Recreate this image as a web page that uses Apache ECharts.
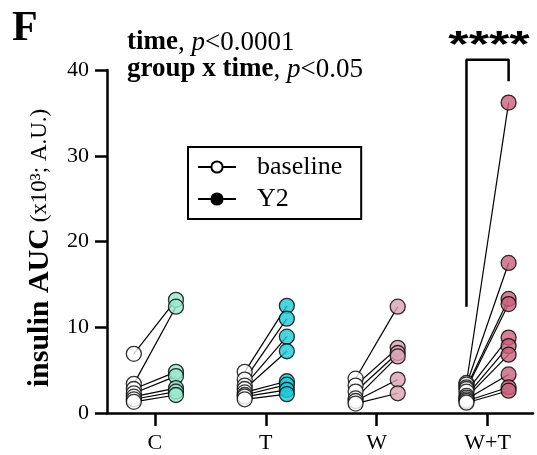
<!DOCTYPE html>
<html>
<head>
<meta charset="utf-8">
<script src="https://cdn.jsdelivr.net/npm/echarts@6/dist/echarts.min.js"></script>
<style>
  html, body { margin: 0; padding: 0; background: #fff; }
  #chart { width: 537px; height: 455px; }
</style>
</head>
<body>
<div id="chart"></div>
<script>
// 分组与刻度
const groups = ['C', 'T', 'W', 'W+T'];
const yTicks = [0, 10, 20, 30, 40];

// 每组受试者的基线值与 Y2 值（x10^3; A.U.），按配对顺序
const baselineC = [6.9, 3.4, 2.8, 2.3, 1.9, 1.6, 1.3];
const y2C = [13.2, 12.4, 4.8, 4.3, 2.9, 2.5, 2.1];
const baselineT = [4.8, 3.9, 3.2, 2.8, 2.4, 2.1, 1.9, 1.6];
const y2T = [12.5, 11.0, 8.9, 7.2, 3.7, 3.3, 2.7, 2.2];
const baselineW = [4.0, 3.2, 2.5, 1.7, 1.4, 1.1];
const y2W = [12.4, 7.6, 7.0, 6.6, 3.9, 2.3];
const baselineWT = [3.5, 3.3, 3.0, 2.8, 2.5, 2.0, 1.8, 1.6, 1.4, 1.2];
const y2WT = [36.2, 17.5, 13.3, 12.7, 8.8, 7.8, 6.8, 4.5, 3.0, 2.6];

const baselineAll = [baselineC, baselineT, baselineW, baselineWT];
const y2All = [y2C, y2T, y2W, y2WT];
const groupColors = ['#98EACD', '#1EC8D8', '#DCA3B4', '#C9617E'];

// 显著性括号（W+T 组）
const bracketY = [12.4, 41.2, 38.7];
const sigText = '****';

const OFFSET = 0.19; // 基线/Y2 相对组中心的偏移

const chart = echarts.init(document.getElementById('chart'));

const series = [];

// 配对连线
groups.forEach((g, gi) => {
  baselineAll[gi].forEach((b, i) => {
    series.push({
      type: 'line',
      silent: true,
      symbol: 'none',
      z: 2,
      lineStyle: { color: '#000', width: 1.2 },
      data: [[gi - OFFSET, b], [gi + OFFSET, y2All[gi][i]]]
    });
  });
});

// 基线点（白色）
groups.forEach((g, gi) => {
  series.push({
    type: 'scatter',
    symbol: 'circle',
    symbolSize: 15,
    z: 3,
    itemStyle: { color: '#fff', borderColor: '#000', borderWidth: 1.3 },
    data: baselineAll[gi].map(v => [gi - OFFSET, v])
  });
});

// Y2 点（组颜色）
groups.forEach((g, gi) => {
  series.push({
    type: 'scatter',
    symbol: 'circle',
    symbolSize: 15,
    z: 4,
    itemStyle: { color: groupColors[gi], borderColor: '#000', borderWidth: 1.3 },
    data: y2All[gi].map(v => [gi + OFFSET, v])
  });
});

// 显著性括号
series.push({
  type: 'line',
  silent: true,
  symbol: 'none',
  clip: false,
  z: 2,
  lineStyle: { color: '#000', width: 2.5 },
  data: [[3 - OFFSET, bracketY[0]], [3 - OFFSET, bracketY[1]], [3 + OFFSET, bracketY[1]], [3 + OFFSET, bracketY[2]]]
});

// 图例用的空系列
series.push({
  name: 'baseline', type: 'line', symbol: 'circle', symbolSize: 12, data: [],
  itemStyle: { color: '#fff', borderColor: '#000', borderWidth: 1.5 },
  lineStyle: { color: '#000', width: 1.5 }
});
series.push({
  name: 'Y2', type: 'line', symbol: 'circle', symbolSize: 12, data: [],
  itemStyle: { color: '#000', borderColor: '#000', borderWidth: 1.5 },
  lineStyle: { color: '#000', width: 1.5 }
});

const serif = 'Liberation Serif';

const option = {
  animation: false,
  backgroundColor: '#fff',
  grid: { left: 107, right: 4, top: 70, bottom: 42 },
  legend: {
    data: ['baseline', 'Y2'],
    orient: 'vertical',
    left: 188,
    top: 147,
    itemWidth: 38,
    itemHeight: 14,
    itemGap: 6,
    padding: [7, 19, 7, 9],
    borderColor: '#000',
    borderWidth: 2,
    borderRadius: 0,
    selectedMode: false,
    textStyle: { fontFamily: serif, fontSize: 26, color: '#000', padding: [0, 0, 0, 16] }
  },
  xAxis: {
    type: 'value',
    min: -0.432,
    max: 3.41,
    splitLine: { show: false },
    axisLine: { lineStyle: { color: '#000', width: 2.5 } },
    axisTick: { customValues: [0, 1, 2, 3], length: 13, lineStyle: { color: '#000', width: 2.5 } },
    axisLabel: {
      customValues: [0, 1, 2, 3],
      formatter: v => groups[Math.round(v)],
      fontFamily: serif, fontSize: 22, color: '#000', margin: 19
    }
  },
  yAxis: {
    type: 'value',
    min: 0,
    max: 40,
    interval: 10,
    splitLine: { show: false },
    axisLine: { show: true, onZero: false, lineStyle: { color: '#000', width: 2.5 } },
    axisTick: { show: true, length: 12, lineStyle: { color: '#000', width: 2.5 } },
    axisLabel: {
      formatter: v => (yTicks.includes(v) ? String(v) : ''),
      fontFamily: serif, fontSize: 22, color: '#000', margin: 18
    }
  },
  graphic: [
    {
      type: 'text', left: 12, top: 8,
      style: { text: 'F', font: 'bold 42px "Liberation Serif"', fill: '#000' }
    },
    {
      type: 'text', left: 127, top: 29,
      style: {
        text: '{b|time}{n|, }{i|p}{n|<0.0001}\n{b|group x time}{n|, }{i|p}{n|<0.05}',
        fill: '#000',
        lineHeight: 27,
        rich: {
          b: { fontFamily: serif, fontWeight: 'bold', fontSize: 27, lineHeight: 27 },
          n: { fontFamily: serif, fontSize: 27, lineHeight: 27 },
          i: { fontFamily: serif, fontStyle: 'italic', fontSize: 27, lineHeight: 27 }
        }
      }
    },
    {
      type: 'text', x: 40, y: 248, rotation: Math.PI / 2,
      style: {
        text: '{b|insulin AUC}{n| (x10³; A.U.)}',
        align: 'center', verticalAlign: 'middle', fill: '#000',
        rich: {
          b: { fontFamily: serif, fontWeight: 'bold', fontSize: 30 },
          n: { fontFamily: serif, fontSize: 23 }
        }
      }
    },
    {
      type: 'text', x: 489, y: 47, scaleX: 1.45,
      style: {
        text: sigText, font: 'bold 36px "Liberation Sans"', fill: '#000',
        align: 'center', verticalAlign: 'middle'
      }
    }
  ],
  series: series
};

chart.setOption(option);
</script>
</body>
</html>
